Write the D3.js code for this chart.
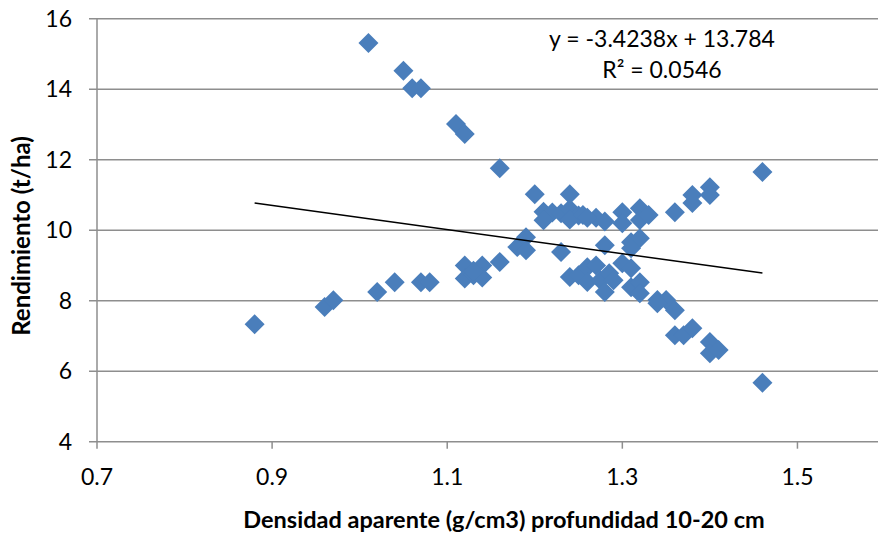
<!DOCTYPE html>
<html>
<head>
<meta charset="utf-8">
<script src="https://cdn.jsdelivr.net/npm/d3@7"></script>
<style>
  body { margin: 0; background: #fff; }
  svg { display: block; }
  text { font-family: Lato, "Open Sans", sans-serif; fill: #000; }
</style>
</head>
<body>
<svg id="chart" width="878" height="533"></svg>
<script>
// densidad aparente (x) and rendimiento (y)
var densidad = [
  1.01, 1.05, 1.06, 1.07, 1.11, 1.12, 1.16, 1.20, 1.24,
  1.21, 1.22, 1.23, 1.24, 1.25, 1.21, 1.24, 1.255, 1.27, 1.28, 1.26,
  1.30, 1.30, 1.32, 1.32, 1.33, 1.36, 1.38, 1.38, 1.40, 1.40, 1.46,
  0.88, 0.96, 0.97, 1.02, 1.04, 1.07, 1.08, 1.12, 1.12, 1.13, 1.14, 1.14, 1.13,
  1.16, 1.18, 1.19, 1.19, 1.23,
  1.28, 1.31, 1.32, 1.31,
  1.24, 1.25, 1.26, 1.27, 1.26, 1.275, 1.28, 1.285, 1.29, 1.30, 1.31, 1.31,
  1.32, 1.32, 1.34, 1.35, 1.34, 1.36, 1.36, 1.37, 1.38, 1.40, 1.40, 1.41, 1.46
];
var rendimiento = [
  15.31, 14.52, 14.03, 14.03, 13.01, 12.73, 11.76, 11.02, 11.02,
  10.52, 10.5, 10.48, 10.6, 10.42, 10.28, 10.3, 10.43, 10.35, 10.25, 10.35,
  10.51, 10.2, 10.62, 10.29, 10.43, 10.51, 10.77, 11.0, 11.22, 11.0, 11.65,
  7.33, 7.82, 8.01, 8.25, 8.52, 8.52, 8.52, 9.0, 8.63, 8.72, 9.0, 8.66, 8.85,
  9.1, 9.52, 9.8, 9.43, 9.38,
  9.57, 9.66, 9.77, 9.49,
  8.67, 8.72, 8.95, 9.0, 8.53, 8.58, 8.25, 8.78, 8.58, 9.06, 8.92, 8.38,
  8.52, 8.21, 8.02, 8.02, 7.93, 7.73, 7.02, 7.02, 7.22, 6.83, 6.51, 6.6, 5.67
];
var xTicks = [0.7, 0.9, 1.1, 1.3, 1.5];
var yTicks = [4, 6, 8, 10, 12, 14, 16];
// trendline as printed in the chart
var slope = -3.4238, intercept = 13.784;
var eqLines = ["y = -3.4238x + 13.784", "R² = 0.0546"];

var points = densidad.map((d, i) => ({ x: d, y: rendimiento[i] }));

var svg = d3.select("#chart");
var x = d3.scaleLinear().domain([0.7, 1.6]).range([97, 885]);
var y = d3.scaleLinear().domain([4, 16]).range([441.7, 18.7]);

// gridlines
svg.append("g").selectAll("line")
  .data(yTicks).join("line")
  .attr("x1", 89).attr("x2", x(1.6))
  .attr("y1", d => y(d)).attr("y2", d => y(d))
  .attr("stroke", "#8e8e8e").attr("stroke-width", 1.5);

// y axis line
svg.append("line")
  .attr("x1", x(0.7)).attr("x2", x(0.7))
  .attr("y1", y(16)).attr("y2", y(4))
  .attr("stroke", "#8e8e8e").attr("stroke-width", 1.5);

// x ticks
svg.append("g").selectAll("line")
  .data(xTicks).join("line")
  .attr("x1", d => x(d)).attr("x2", d => x(d))
  .attr("y1", y(4)).attr("y2", y(4) + 7)
  .attr("stroke", "#8e8e8e").attr("stroke-width", 1.5);

// tick labels
svg.append("g").selectAll("text")
  .data(yTicks).join("text")
  .attr("x", 72).attr("y", d => y(d) + 8)
  .attr("text-anchor", "end")
  .style("font-size", "23px")
  .text(d => d);

svg.append("g").selectAll("text")
  .data(xTicks).join("text")
  .attr("x", d => x(d)).attr("y", 485)
  .attr("text-anchor", "middle")
  .style("font-size", "23px")
  .text(d => d3.format(".1f")(d));

// axis titles
svg.append("text")
  .attr("x", 504).attr("y", 528)
  .attr("text-anchor", "middle")
  .style("font-size", "23.5px").style("font-weight", "bold")
  .text("Densidad aparente (g/cm3) profundidad 10-20 cm");

svg.append("text")
  .attr("transform", "translate(30,236) rotate(-90)")
  .attr("text-anchor", "middle")
  .style("font-size", "24px").style("font-weight", "bold")
  .text("Rendimiento (t/ha)");

// markers
var diamond = d3.symbol().type(d3.symbolSquare).size(200);
svg.append("g").selectAll("path")
  .data(points).join("path")
  .attr("d", diamond)
  .attr("transform", d => `translate(${x(d.x)},${y(d.y)}) rotate(45)`)
  .attr("fill", "#4a7ebb");

// linear trendline over the data range
var xr = d3.extent(densidad);
svg.append("line")
  .attr("x1", x(xr[0])).attr("y1", y(slope * xr[0] + intercept))
  .attr("x2", x(xr[1])).attr("y2", y(slope * xr[1] + intercept))
  .attr("stroke", "#000").attr("stroke-width", 1.5);

// equation label
svg.append("g").selectAll("text")
  .data(eqLines).join("text")
  .attr("x", 662).attr("y", (d, i) => 47 + i * 31)
  .attr("text-anchor", "middle")
  .style("font-size", "23px")
  .text(d => d);
</script>
</body>
</html>
